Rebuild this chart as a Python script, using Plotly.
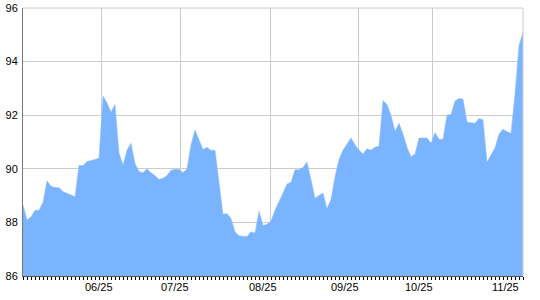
import plotly.graph_objects as go

values = [
    88.65, 88.1, 88.2, 88.45, 88.45, 88.75, 89.55, 89.35, 89.3, 89.3,
    89.15, 89.08, 89.02, 88.96, 90.13, 90.12, 90.27, 90.3, 90.35, 90.4,
    92.72, 92.46, 92.12, 92.4, 90.6, 90.14, 90.7, 90.95, 90.2, 89.9,
    89.85, 90.0, 89.85, 89.75, 89.6, 89.65, 89.75, 89.95, 89.98, 89.98,
    89.85, 90.0, 90.9, 91.45, 91.1, 90.72, 90.8, 90.68, 90.7, 89.5,
    88.3, 88.33, 88.15, 87.65, 87.5, 87.48, 87.47, 87.65, 87.6, 88.43,
    87.88, 87.93, 88.05, 88.45, 88.75, 89.1, 89.43, 89.5, 89.96, 89.96,
    90.05, 90.25, 89.6, 88.9, 89.0, 89.1, 88.52, 88.85, 89.7, 90.35,
    90.7, 90.95, 91.15, 90.9, 90.7, 90.55, 90.75, 90.7, 90.8, 90.85,
    92.55, 92.4, 92.0, 91.4, 91.7, 91.3, 90.8, 90.45, 90.55, 91.15,
    91.15, 91.15, 90.95, 91.35, 91.1, 91.1, 92.0, 92.03, 92.53, 92.62,
    92.6, 91.75, 91.72, 91.7, 91.88, 91.83, 90.25, 90.5, 90.78, 91.3,
    91.48, 91.38, 91.33, 92.8, 94.6, 95.1,
]
x_index = list(range(len(values)))

month_grid_positions = [19.5, 39.25, 61.75, 83.75, 102.25, 125]
month_label_positions = [19, 37.9, 59.9, 80.6, 99, 120.6]
month_labels = ["06/25", "07/25", "08/25", "09/25", "10/25", "11/25"]
y_ticks = [86, 88, 90, 92, 94, 96]

fig = go.Figure()
fig.add_trace(go.Scatter(
    x=x_index, y=values, mode="lines", fill="tozeroy",
    fillcolor="rgb(122,180,255)", line=dict(width=0.5, color="rgb(140,190,255)"),
    hoverinfo="skip",
))

font = dict(family="Liberation Sans, Arial, sans-serif", size=11, color="#000")

annotations = [
    dict(x=xp, y=0, xref="x", yref="paper", text=lab, showarrow=False,
         xanchor="center", yanchor="top", yshift=-3, font=font)
    for xp, lab in zip(month_label_positions, month_labels)
]

fig.update_layout(
    width=540, height=300,
    margin=dict(l=23, r=17, t=8, b=24, autoexpand=False),
    paper_bgcolor="white", plot_bgcolor="white",
    showlegend=False, font=font,
    xaxis=dict(
        range=[0, len(values) - 1], tickmode="array",
        tickvals=month_grid_positions, showticklabels=False,
        showgrid=True, gridcolor="#cccccc", gridwidth=1,
        ticks="", showline=True, linecolor="#555555", linewidth=1,
        zeroline=False, automargin=False,
        minor=dict(ticks="outside", dtick=1, tick0=0, ticklen=3,
                   tickcolor="#000000", tickwidth=1, showgrid=False),
    ),
    yaxis=dict(
        range=[86, 96], tickmode="array", tickvals=y_ticks,
        showgrid=True, gridcolor="#cccccc", gridwidth=1,
        ticks="", showline=True, linecolor="#777777", linewidth=1,
        zeroline=False, tickfont=font, ticklabelstandoff=2, automargin=False,
    ),
    annotations=annotations,
    shapes=[
        dict(type="line", xref="paper", yref="paper", x0=0, x1=1, y0=1, y1=1,
             line=dict(color="#cccccc", width=1)),
        dict(type="line", xref="paper", yref="paper", x0=1, x1=1, y0=0, y1=1,
             line=dict(color="#cccccc", width=1)),
    ],
)

fig.write_html("out.html")
